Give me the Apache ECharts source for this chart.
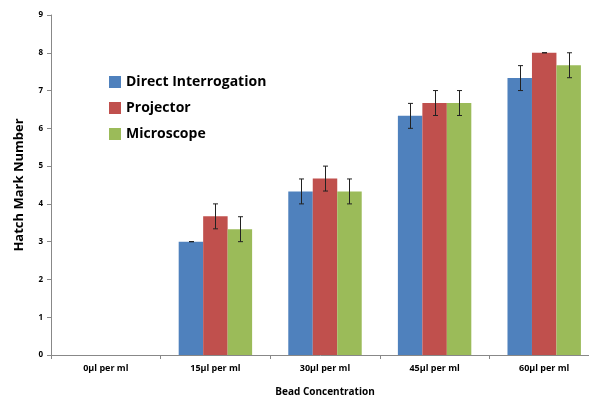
<!DOCTYPE html>
<html><head><meta charset="utf-8">
<script src="https://cdn.jsdelivr.net/npm/echarts@6/dist/echarts.min.js"></script>
<style>html,body{margin:0;padding:0;background:#fff}#c{width:589px;height:396px}</style>
</head><body><div id="c"></div>
<script>
var categories = ['0µl per ml','15µl per ml','30µl per ml','45µl per ml','60µl per ml'];
var seriesNames = ['Direct Interrogation','Projector','Microscope'];
var directVals = [null, 3.0, 4.33, 6.33, 7.33];
var projectorVals = [null, 3.67, 4.67, 6.67, 8.0];
var microscopeVals = [null, 3.33, 4.33, 6.67, 7.67];
var directErr = [null, 0, 0.33, 0.33, 0.33];
var projectorErr = [null, 0.33, 0.33, 0.33, 0];
var microscopeErr = [null, 0.33, 0.33, 0.33, 0.33];
var yTicks = [0,1,2,3,4,5,6,7,8,9];
var colors = ['#4f81bd','#c0504d','#9bbb59'];

var vals = [directVals, projectorVals, microscopeVals];
var errs = [directErr, projectorErr, microscopeErr];
var barGap = '0%', catGap = '33%';

function errSeries(i){
  var data = [];
  for (var k=0;k<categories.length;k++){
    if (vals[i][k]!=null) data.push([k, vals[i][k], errs[i][k]]);
  }
  return {
    type:'custom', name: seriesNames[i]+' err', z:10,
    data: data,
    renderItem: function(params, api){
      var k = api.value(0), v = api.value(1), e = api.value(2);
      var c = api.coord([k, v]);
      var bw = api.size([1,0])[0];
      var barW = bw*(1-0.33)/3;
      var x = Math.round(c[0] + (i-1)*barW) + 0.5;
      var top = api.coord([k, v+e])[1];
      var bot = api.coord([k, v-e])[1];
      var cap = 2.5;
      var st = {stroke:'#222', lineWidth:1};
      return {type:'group', children:[
        {type:'line', shape:{x1:x,y1:top,x2:x,y2:bot}, style:st},
        {type:'line', shape:{x1:x-cap,y1:top,x2:x+cap,y2:top}, style:st},
        {type:'line', shape:{x1:x-cap,y1:bot,x2:x+cap,y2:bot}, style:st}
      ]};
    }
  };
}

var series = [];
for (var i=0;i<3;i++){
  series.push({type:'bar', name:seriesNames[i], data:vals[i], barGap:barGap, barCategoryGap:catGap,
    itemStyle:{color:colors[i]}});
}
for (var i=0;i<3;i++) series.push(errSeries(i));

var chart = echarts.init(document.getElementById('c'));
chart.setOption({
  animation:false,
  color: colors,
  legend:{
    data: seriesNames, orient:'vertical', left:104, top:70, itemWidth:12, itemHeight:12, itemGap:12,
    icon:'rect',
    textStyle:{fontFamily:'Open Sans', fontWeight:'bold', fontSize:14, color:'#000'}
  },
  grid:{left:51, right:-10, top:15, bottom:41, containLabel:false, outerBoundsMode:'none'},
  xAxis:{
    type:'category', data:categories,
    axisLine:{lineStyle:{color:'#888'}},
    axisTick:{show:true, alignWithLabel:false, length:4, lineStyle:{color:'#888'}},
    axisLabel:{fontFamily:'Open Sans', fontWeight:'bold', fontSize:9, color:'#000', margin:9},
    name:'Bead Concentration', nameLocation:'middle', nameGap:32,
    nameTextStyle:{fontFamily:'Open Sans', fontWeight:'bold', fontSize:10, color:'#000'}
  },
  yAxis:{
    type:'value', min:0, max:9, interval:1,
    axisLine:{show:true, lineStyle:{color:'#888'}},
    axisTick:{show:true, length:4, lineStyle:{color:'#888'}},
    splitLine:{show:false},
    axisLabel:{fontFamily:'Open Sans', fontWeight:'bold', fontSize:8, color:'#000', margin:8},
    name:'Hatch Mark Number', nameLocation:'middle', nameGap:25,
    nameTextStyle:{fontFamily:'Open Sans', fontWeight:'bold', fontSize:13, color:'#000'}
  },
  series: series
});
</script></body></html>
